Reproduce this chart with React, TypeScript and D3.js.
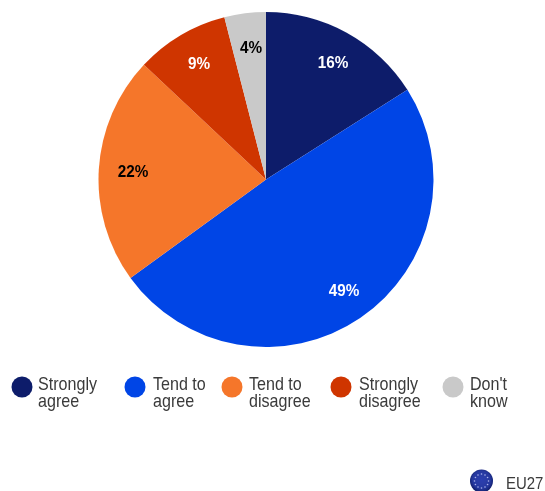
import React from "react";
import * as d3 from "d3";

const categories = ["Strongly agree", "Tend to agree", "Tend to disagree", "Strongly disagree", "Don't know"];
const values = [16, 49, 22, 9, 4];
const colors = ["#0f1f6b", "#0645e6", "#f5762b", "#cf3505", "#c9c9c9"];
const labelColors = ["#ffffff", "#ffffff", "#000000", "#ffffff", "#000000"];
const legendLines = [["Strongly", "agree"], ["Tend to", "agree"], ["Tend to", "disagree"], ["Strongly", "disagree"], ["Don't", "know"]];
const legendDotX = [22, 135, 232, 341, 453];
const legendTextX = [38, 153, 249, 359, 470];
const labelPos: [number, number][] = [[333, 64], [344, 292], [133, 173], [199, 65], [251, 48.5]];
const font = "'Liberation Sans', Arial, sans-serif";

export default function App() {
  const cx = 266, cy = 179.5, r = 167.5;
  const pie = d3.pie<number>().sort(null).startAngle(0).endAngle(2 * Math.PI);
  const arc = d3.arc<d3.PieArcDatum<number>>().innerRadius(0).outerRadius(r);
  const arcs = pie(values);
  const starAngles = d3.range(12).map((i) => (i * Math.PI) / 6);
  return (
    <svg width={545} height={491} style={{ position: "absolute", left: 0, top: 0, background: "#fff" }} fontFamily={font}>
      <defs>
        <filter id="soft" x="-5%" y="-5%" width="110%" height="110%">
          <feGaussianBlur stdDeviation="0.5" />
        </filter>
        <radialGradient id="flag" cx="50%" cy="45%" r="55%">
          <stop offset="0%" stopColor="#2d3fb0" />
          <stop offset="70%" stopColor="#26389f" />
          <stop offset="100%" stopColor="#0f1c66" />
        </radialGradient>
      </defs>
      <g filter="url(#soft)">
        <g transform={`translate(${cx},${cy})`}>
          {arcs.map((a, i) => (
            <path key={categories[i]} d={arc(a) ?? ""} fill={colors[i]} />
          ))}
        </g>
        {values.map((v, i) => (
          <text key={i} fill={labelColors[i]} fontSize={17} fontWeight={700} textAnchor="middle" dominantBaseline="middle" transform={`translate(${labelPos[i][0]},${labelPos[i][1]}) scale(0.9,1)`}>
            {v}%
          </text>
        ))}
        {categories.map((c, i) => (
          <g key={c}>
            <circle cx={legendDotX[i]} cy={387} r={10.5} fill={colors[i]} />
            <text fill="#3a3a3a" fontSize={17.5} transform={`translate(${legendTextX[i]},0) scale(0.92,1)`}>
              <tspan x={0} y={390.5}>{legendLines[i][0]}</tspan>
              <tspan x={0} y={407.5}>{legendLines[i][1]}</tspan>
            </text>
          </g>
        ))}
        <circle cx={481.5} cy={481} r={11.5} fill="url(#flag)" />
        {starAngles.map((t) => (
          <circle key={t} cx={481.5 + 7 * Math.sin(t)} cy={481 - 7 * Math.cos(t)} r={0.8} fill="#aab2ea" />
        ))}
        <text x={0} y={489} fill="#3a3a3a" fontSize={17} transform="translate(506,0) scale(0.88,1)">EU27</text>
      </g>
    </svg>
  );
}
